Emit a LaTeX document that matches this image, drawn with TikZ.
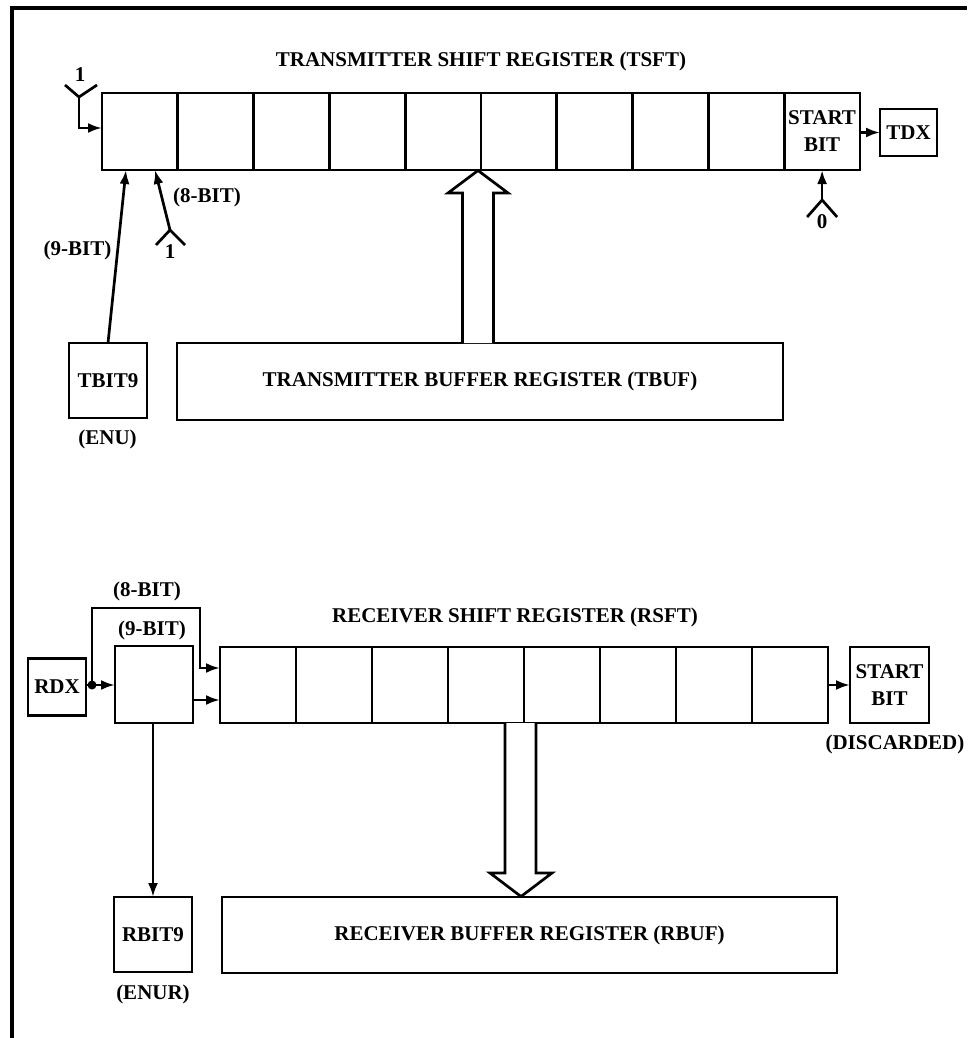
\documentclass[tikz,border=0pt]{standalone}
\usepackage{fontspec}
\setmainfont{Liberation Serif}
\usetikzlibrary{arrows.meta}
\tikzset{
  txt/.style={font=\fontsize{21}{27}\selectfont\bfseries, inner sep=0pt, outer sep=0pt, align=center},
  box/.style={txt, draw, line width=2.7pt},
  cell/.style={box, minimum width=75.8pt, minimum height=77pt},
  rcell/.style={box, minimum width=76pt, minimum height=76pt},
  wire/.style={line width=2.7pt},
  arr/.style={wire, -{Latex[length=14pt,width=10pt]}},
  fat/.style={line width=2.7pt, fill=white, line join=miter},
  frame/.style={line width=3.2pt},
}
\begin{document}
\begin{tikzpicture}[x=1pt,y=-1pt]
\useasboundingbox (0,0) rectangle (967,1038);
\draw[frame] (12,1038) -- (12,8) -- (967,8);

% ---------------- transmitter ----------------
\node[txt] (ttitle) at (481,61) {TRANSMITTER SHIFT REGISTER (TSFT)};
\foreach \i in {1,...,9}
  \node[cell] (t\i) at ({102+75.8*(\i-0.5)},131.5) {};
\node[cell] (t10) at ({102+75.8*9.5},131.5) {START\\BIT};
\node[box, minimum width=57pt, minimum height=47pt] (tdx) at (908.5,132.5) {TDX};
\draw[arr] (t10.east |- tdx) -- (tdx.west);

% input "1" at top left
\node[txt] (one1) at (80,75) {1};
\coordinate (f1) at (79,97);
\draw[wire] (65,85) -- (f1) -- (97,85);
\draw[arr] (f1) |- (t1.west |- 0,128);

% TBIT9
\node[box, minimum width=78pt, minimum height=75pt] (tbit9) at (108,380.5) {TBIT9};
\node[txt] (enu) at (107.5,439) {(ENU)};
\draw[arr] (tbit9.north) -- (t1.south -| 126,0);
\node[txt] (t9bit) at (77.5,250) {(9-BIT)};

% input "1" for 8-bit
\coordinate (f2) at (170,230);
\draw[arr] (f2) -- (t1.south -| 155,0);
\draw[wire] (156,245) -- (f2) -- (185,245);
\node[txt] (one2) at (170,252) {1};
\node[txt] (t8bit) at (207,197.5) {(8-BIT)};

% input "0" for start bit
\coordinate (f3) at (t10.south |- 0,200);
\draw[arr] (f3) -- (t10.south);
\draw[wire] ([xshift=-15pt,yshift=-17pt]f3) -- (f3) -- ([xshift=15pt,yshift=-17pt]f3);
\node[txt] (zero) at ([yshift=-22pt]f3) {0};

% TBUF
\node[box, minimum width=606pt, minimum height=77pt] (tbuf) at (480,381.5) {TRANSMITTER BUFFER REGISTER (TBUF)};
\draw[fat] (tbuf.north -| 462.5,0) -- (462.5,193) -- (448,193) -- (478,170.5) -- (508,193) -- (493.5,193) -- (tbuf.north -| 493.5,0);

% ---------------- receiver ----------------
\node[txt] (rtitle) at (515,617) {RECEIVER SHIFT REGISTER (RSFT)};
\foreach \i in {1,...,8}
  \node[rcell] (r\i) at ({220+76*(\i-0.5)},685) {};
\node[box, minimum width=79pt, minimum height=76pt] (rsb) at (889.5,685) {START\\BIT};
\node[txt] (disc) at (895,744) {(DISCARDED)};
\draw[arr] (r8.east) -- (rsb.west);

\node[box, minimum width=58pt, minimum height=57pt] (rdx) at (57,687) {RDX};
\node[box, minimum width=78pt, minimum height=77pt] (r9) at (154,684.5) {};
\coordinate (dot) at (92,685);
\draw[wire] (rdx.east |- dot) -- (dot);
\fill (dot) circle (4.5pt);
\draw[arr] (dot) -- (r9.west |- dot);
\draw[arr] (dot) |- (200,608) |- (r1.west |- 0,668);
\draw[arr] (r9.east |- 0,700) -- (r1.west |- 0,700);
\node[txt] (r8bit) at (147,591) {(8-BIT)};
\node[txt] (r9bit) at (152,630) {(9-BIT)};

\node[box, minimum width=78pt, minimum height=75pt] (rbit9) at (153,934.5) {RBIT9};
\node[txt] (enur) at (153,994) {(ENUR)};
\draw[arr] (r9.south -| rbit9) -- (rbit9.north);

\node[box, minimum width=615pt, minimum height=76pt] (rbuf) at (529.5,935) {RECEIVER BUFFER REGISTER (RBUF)};
\draw[fat] (r4.south -| 505,0) -- (505,873) -- (490,873) -- (521,896.5) -- (552,873) -- (536,873) -- (r4.south -| 536,0);
\end{tikzpicture}
\end{document}
